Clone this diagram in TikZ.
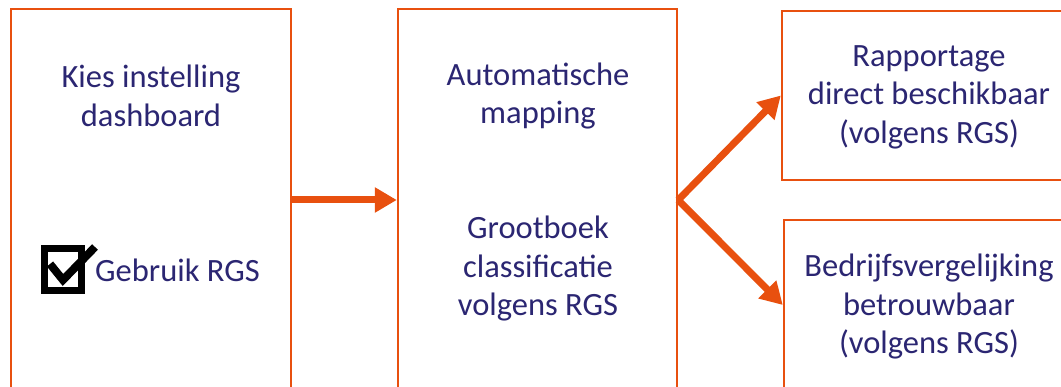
\documentclass[tikz,border=0pt]{standalone}
\usepackage{fontspec}
\setmainfont{Carlito}
\usetikzlibrary{arrows.meta}
\definecolor{org}{HTML}{E8500F}
\definecolor{navy}{HTML}{2B2672}
\begin{document}
\begin{tikzpicture}[x=1pt,y=-1pt,
  box/.style={draw=org,line width=2.4pt,fill=white,inner sep=0pt},
  lbl/.style={text=navy,align=center,font=\fontsize{32.5}{38.5}\selectfont,inner sep=0pt},
  flow/.style={draw=org,line width=7pt,-{Triangle[length=22pt,width=24pt]}}]
\useasboundingbox (0,0) rectangle (1061,387);
\clip (0,0) rectangle (1061,387);
\node[box,minimum width=280pt,minimum height=382pt] (b1) at (151,200) {};
\node[box,minimum width=279pt,minimum height=382pt] (b2) at (537.5,200) {};
\node[box,minimum width=293pt,minimum height=169pt] (b3) at (928.5,95.5) {};
\node[box,minimum width=291pt,minimum height=170pt] (b4) at (929.5,305) {};
\node[lbl] (t1) at (151,96) {Kies instelling\\dashboard};
\node[lbl,anchor=west] (t2) at (95,270) {Gebruik RGS};
\node[lbl] (t3) at (538,96) {Automatische\\mapping};
\node[lbl] (t4) at (538,269) {Grootboek\\classificatie\\volgens RGS};
\node[lbl] (t5) at (929,97) {Rapportage\\direct beschikbaar\\(volgens RGS)};
\node[lbl] (t6) at (929,307) {Bedrijfsvergelijking\\betrouwbaar\\(volgens RGS)};
% checkbox
\node[draw=black,line width=7pt,minimum width=37pt,minimum height=42pt,inner sep=0pt] (cb) at (63,269.5) {};
\draw[black,line width=8pt] (50,264) -- (63,280) -- (95,247);
\draw[flow] (b1.east) -- (b2.west);
\draw[flow] (b2.east) -- (b3.west);
\draw[flow] (b2.east) -- (b4.west);
\end{tikzpicture}
\end{document}
